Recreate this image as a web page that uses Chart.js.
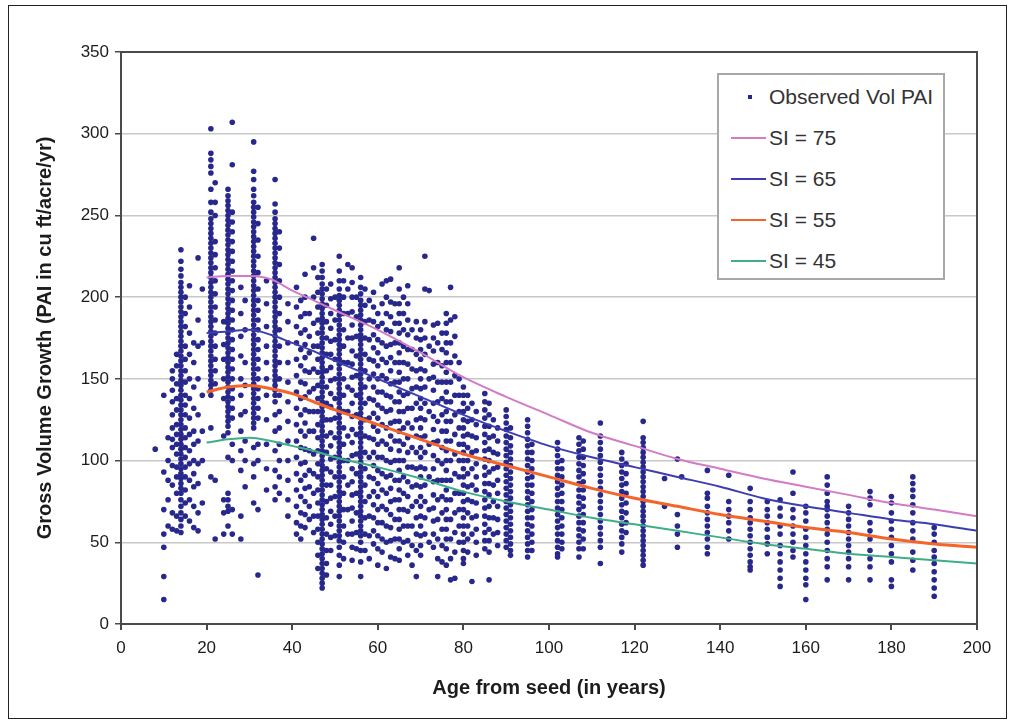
<!DOCTYPE html>
<html>
<head>
<meta charset="utf-8">
<script src="https://cdn.jsdelivr.net/npm/chart.js@4.4.1/dist/chart.umd.min.js"></script>
<style>
  html, body { margin: 0; padding: 0; background: #fff; }
  #wrap { position: relative; width: 1014px; height: 724px; }
  #frame { position: absolute; left: 8px; top: 5px; width: 997px; height: 712px; border: 1px solid #222; pointer-events: none; }
  #legend { position: absolute; left: 717px; top: 73px; width: 224px; height: 203px; border: 2px solid #a8a8a8; background: #fff;
            font-family: "Liberation Sans", Arial, sans-serif; font-size: 21px; color: #333; }
  .row { position: absolute; left: 0; height: 24px; line-height: 24px; }
  .row span.txt { position: absolute; left: 50px; white-space: nowrap; }
  .row span.ln { position: absolute; left: 12px; top: 11px; width: 35px; height: 2px; }
  .row span.dot { position: absolute; left: 29px; top: 10px; width: 4px; height: 4px; background: #27278a; }
</style>
</head>
<body>
<div id="wrap">
  <canvas id="chart" width="1014" height="724"></canvas>
  <div id="legend"></div>
  <div id="frame"></div>
</div>
<script>
// ---- data ----
const curveAges = [20, 25, 30, 35, 40, 45, 50, 60, 70, 80, 90, 100, 110, 120, 130, 140, 150, 160, 170, 180, 190, 200];
const si75 = [212, 213, 213, 211, 204, 198, 192, 180, 166, 151, 139, 128, 117, 109, 101, 95, 89, 84, 79, 74, 70, 66];
const si65 = [178, 179, 180, 177, 172, 167, 161, 150, 139, 128, 118, 109, 102, 96, 90, 84, 77, 72, 68, 64, 61, 57];
const si55 = [142, 145, 146, 144, 141, 136, 131, 122, 113, 104, 97, 90, 83, 77, 72, 67, 63, 59, 56, 52, 49, 47];
const si45 = [111, 113, 114, 112, 109, 106, 102, 96, 89, 81, 75, 70, 65, 61, 57, 53, 49, 46, 43, 41, 39, 37];

// observed PAI, one column per stand age
const obsAges = [8, 10, 11, 12, 13, 14, 15, 16, 17, 18, 19, 21, 22, 24, 25, 26, 28, 29, 31, 32, 34, 36, 37, 39,
  41, 42, 43, 44, 45, 46, 47, 48, 49, 50, 51, 52, 53, 54, 55, 56, 57, 58, 59, 60, 61, 62, 63, 64, 65, 66, 67, 68, 69,
  70, 71, 72, 73, 74, 75, 76, 77, 78, 79, 80, 81, 82, 83, 85, 86, 87, 88, 90, 91, 95, 96, 102, 103, 107, 108, 112,
  117, 118, 122, 127, 130, 131, 137, 142, 147, 151, 154, 157, 160, 165, 170, 175, 180, 185, 190];
const obsValues = [
  [107], // 8
  [140, 93, 70, 55, 47, 29, 15], // 10
  [114, 100, 88, 76, 60], // 11
  [155, 150, 143, 136, 128, 120, 113, 108, 97, 85, 68, 58], // 12
  [165, 158, 147, 138, 131, 122, 116, 110, 104, 96, 90, 80, 66, 57], // 13
  [229, 222, 217, 213, 209, 206, 203, 200, 197, 194, 191, 188, 185, 182, 179, 176, 173, 170, 167, 164, 161, 158, 155,
   152, 149, 146, 143, 140, 137, 134, 131, 128, 125, 122, 119, 116, 113, 110, 107, 104, 101, 98, 95, 92, 89, 86, 83,
   80, 76, 72, 68, 64, 60, 56], // 14
  [200, 190, 182, 170, 162, 155, 148, 140, 134, 128, 120, 114, 108, 102, 96, 90, 82, 74, 66], // 15
  [207, 194, 178, 165, 150, 138, 126, 116, 106, 98, 88, 76, 63], // 16
  [172, 160, 145, 132, 118, 110, 100, 92, 84, 72, 59], // 17
  [224, 186, 170, 150, 128, 112, 98, 86, 68, 57], // 18
  [205, 172, 140, 118, 100, 74], // 19
  [303, 288, 284, 280, 276, 266, 258, 252, 248, 245, 242, 239, 236, 233, 230, 227, 224, 221, 218, 215, 212, 209, 206,
   203, 200, 197, 194, 191, 188, 185, 182, 179, 176, 173, 170, 167, 164, 161, 158, 155, 152, 149, 146, 143, 140, 120, 90], // 21
  [270, 258, 250, 234, 226, 218, 210, 202, 194, 186, 178, 170, 162, 155, 147, 88, 52], // 22
  [185, 171, 162, 150, 138, 115, 76, 68, 55], // 24
  [266, 262, 259, 256, 253, 250, 247, 244, 241, 238, 235, 232, 229, 226, 223, 220, 217, 214, 211, 208, 205, 202, 199,
   196, 193, 190, 187, 184, 181, 178, 175, 172, 169, 166, 163, 160, 157, 154, 151, 148, 145, 142, 139, 136, 133, 130,
   127, 124, 121, 117, 102, 80, 76, 72, 69, 60], // 25
  [307, 281, 252, 246, 240, 234, 228, 222, 216, 210, 204, 198, 192, 186, 180, 174, 168, 162, 156, 150, 144, 138, 132,
   126, 110, 100, 70, 55], // 26
  [206, 190, 176, 164, 150, 140, 128, 118, 106, 94, 66, 52], // 28
  [198, 180, 160, 146, 130, 112, 100, 84], // 29
  [295, 277, 272, 266, 262, 258, 255, 252, 249, 246, 243, 240, 237, 234, 231, 228, 225, 222, 219, 216, 213, 210, 207,
   204, 201, 198, 195, 192, 189, 186, 183, 180, 177, 174, 171, 168, 165, 162, 159, 156, 153, 150, 147, 144, 141, 138,
   135, 132, 129, 126, 123, 120, 108, 98, 90, 74], // 31
  [255, 245, 235, 225, 215, 205, 198, 192, 186, 180, 174, 168, 162, 156, 150, 144, 138, 132, 126, 110, 100, 70, 30], // 32
  [210, 196, 182, 170, 160, 150, 140, 125, 110, 95, 82], // 34
  [272, 257, 252, 248, 245, 242, 239, 236, 233, 230, 227, 224, 221, 218, 215, 212, 209, 206, 203, 200, 197, 194, 191,
   188, 185, 182, 179, 176, 173, 170, 167, 164, 161, 158, 155, 152, 149, 146, 143, 140, 136, 128, 118, 106, 94, 84, 76], // 36
  [240, 230, 220, 210, 200, 190, 180, 170, 160, 150, 140, 130, 120, 110, 100, 90, 80], // 37
  [196, 185, 172, 160, 148, 136, 124, 112, 100, 88, 76, 66], // 39
  [206, 194, 182, 172, 162, 152, 142, 132, 122, 112, 102, 92, 82, 72, 62, 55], // 41
  [198, 188, 178, 168, 158, 148, 138, 128, 118, 108, 98, 88, 78, 68, 60, 52], // 42
  [214, 200, 190, 180, 171, 163, 155, 147, 139, 131, 123, 115, 107, 99, 91, 83, 75, 67, 59], // 43
  [190, 176, 166, 154, 142, 130, 118, 106, 94, 84, 72, 64], // 44
  [236, 218, 200, 184, 170, 156, 144, 130, 118, 104, 92, 80, 66, 56], // 45
  [212, 203, 194, 186, 178, 170, 162, 154, 146, 138, 130, 122, 114, 106, 98, 90, 82, 74, 66, 58, 50, 42, 34], // 46
  [220, 216, 212, 208, 205, 202, 199, 196, 193, 190, 187, 184, 181, 178, 175, 172, 169, 166, 163, 160, 157, 154, 151,
   148, 145, 142, 139, 136, 133, 130, 127, 124, 121, 118, 115, 112, 109, 106, 103, 100, 97, 94, 91, 88, 85, 82, 79,
   76, 73, 70, 67, 64, 61, 58, 55, 52, 49, 46, 43, 40, 37, 34, 31, 28, 25, 22], // 47
  [205, 195, 185, 175, 165, 155, 145, 135, 125, 115, 105, 95, 85, 75, 65, 55, 45, 37, 30], // 48
  [208, 199, 190, 181, 173, 165, 157, 149, 141, 133, 125, 117, 109, 101, 93, 85, 77, 69, 61, 53, 45], // 49
  [200, 186, 174, 162, 150, 138, 126, 114, 102, 90, 78, 66, 54], // 50
  [225, 216, 210, 205, 201, 198, 195, 192, 189, 186, 183, 180, 177, 174, 171, 168, 165, 162, 159, 156, 153, 150, 147,
   144, 141, 138, 135, 132, 129, 126, 123, 120, 117, 114, 111, 108, 105, 102, 99, 96, 93, 90, 87, 84, 81, 78, 75, 72,
   69, 66, 63, 60, 57, 54, 51, 47, 42, 36, 29], // 51
  [210, 200, 190, 180, 170, 160, 150, 140, 130, 120, 110, 100, 90, 80, 70, 60, 50, 40], // 52
  [220, 205, 190, 175, 160, 145, 130, 115, 100, 85, 70, 55], // 53
  [218, 209, 200, 191, 183, 175, 167, 159, 151, 143, 135, 127, 119, 111, 103, 95, 87, 79, 71, 63, 55, 47, 39], // 54
  [200, 188, 176, 164, 152, 140, 128, 116, 104, 92, 80, 68, 56, 46], // 55
  [212, 206, 202, 198, 195, 192, 189, 186, 183, 180, 177, 174, 171, 168, 165, 162, 159, 156, 153, 150, 147, 144, 141,
   138, 135, 132, 129, 126, 123, 120, 117, 114, 111, 108, 105, 102, 99, 96, 93, 90, 87, 84, 81, 78, 75, 72, 69, 66,
   63, 60, 57, 54, 50, 45, 38, 29], // 56
  [205, 195, 185, 175, 165, 155, 145, 135, 125, 115, 105, 95, 85, 75, 65, 55, 45], // 57
  [198, 186, 174, 162, 150, 138, 126, 114, 102, 90, 78, 66, 54, 40], // 58
  [203, 194, 185, 177, 169, 161, 153, 145, 137, 129, 121, 113, 105, 97, 89, 81, 73, 65, 57, 49], // 59
  [190, 182, 174, 166, 158, 150, 142, 134, 126, 118, 110, 102, 94, 86, 78, 70, 62, 54, 46, 36], // 60
  [208, 196, 184, 172, 162, 152, 142, 132, 122, 112, 102, 92, 82, 72, 62, 52, 44], // 61
  [210, 200, 190, 180, 170, 160, 150, 140, 130, 120, 110, 100, 90, 80, 70, 60, 50, 34], // 62
  [211, 197, 188, 179, 171, 163, 155, 147, 139, 131, 123, 115, 107, 99, 91, 83, 75, 67, 59, 51, 41], // 63
  [196, 184, 172, 160, 148, 136, 124, 112, 100, 88, 76, 64, 52, 40], // 64
  [218, 205, 196, 190, 184, 178, 172, 166, 160, 154, 148, 142, 136, 130, 124, 118, 112, 106, 100, 94, 88, 82, 76,
   70, 64, 58, 52, 46, 39], // 65
  [200, 190, 180, 170, 160, 150, 140, 130, 120, 110, 100, 90, 80, 70, 60, 50], // 66
  [207, 196, 186, 177, 168, 159, 150, 141, 132, 123, 114, 105, 96, 87, 78, 69, 60, 51, 42], // 67
  [180, 168, 156, 144, 132, 120, 108, 96, 84, 72, 60, 48, 36], // 68
  [185, 175, 165, 155, 145, 135, 125, 115, 105, 95, 85, 75, 65, 55, 45, 29], // 69
  [180, 174, 168, 162, 156, 150, 144, 138, 132, 126, 120, 114, 108, 102, 96, 90, 84, 78, 72, 66, 60, 54, 48, 42], // 70
  [225, 205, 185, 175, 165, 155, 145, 135, 125, 115, 105, 95, 85, 75, 65, 55], // 71
  [204, 170, 150, 130, 110, 90, 70, 50], // 72
  [183, 175, 167, 159, 151, 143, 135, 127, 119, 111, 103, 95, 87, 79, 71, 63, 55, 47], // 73
  [184, 172, 160, 148, 136, 124, 112, 100, 88, 76, 64, 52, 40, 29], // 74
  [178, 168, 158, 148, 138, 128, 118, 108, 98, 88, 78, 68, 58, 48, 38], // 75
  [190, 184, 178, 172, 166, 160, 154, 148, 142, 136, 130, 124, 118, 112, 106, 100, 94, 88, 82, 76, 70, 64, 58, 52,
   46, 36], // 76
  [206, 186, 172, 160, 148, 136, 124, 112, 100, 88, 76, 64, 52, 40, 27], // 77
  [188, 176, 164, 152, 140, 128, 116, 104, 92, 80, 68, 56, 44, 28], // 78
  [160, 150, 140, 130, 120, 110, 100, 90, 80, 70, 60, 50], // 79
  [145, 140, 135, 130, 125, 120, 115, 110, 105, 100, 95, 90, 85, 80, 75, 70, 65, 60, 55, 50, 45, 40, 37], // 80
  [140, 132, 124, 116, 108, 100, 92, 84, 76, 68, 60, 52, 44], // 81
  [135, 125, 115, 105, 95, 85, 75, 65, 55, 26], // 82
  [130, 122, 114, 106, 98, 90, 82, 74, 66, 58, 50, 42], // 83
  [141, 136, 131, 126, 121, 116, 111, 106, 101, 96, 91, 86, 81, 76, 71, 66, 61, 56, 51, 46], // 85
  [135, 128, 121, 114, 107, 100, 93, 86, 79, 72, 65, 58, 51, 44, 27], // 86
  [125, 115, 105, 95, 85, 75, 65, 55], // 87
  [120, 112, 104, 96, 88, 80, 72, 64, 56, 48], // 88
  [131, 127, 123, 119, 115, 111, 107, 103, 99, 95, 91, 87, 83, 79, 75, 71, 67, 63, 59, 55, 51, 47], // 90
  [120, 114, 109, 105, 101, 97, 93, 89, 85, 81, 77, 73, 69, 65, 61, 57, 53, 49, 45, 42], // 91
  [125, 121, 117, 113, 109, 105, 101, 97, 93, 89, 85, 81, 77, 73, 69, 65, 61, 57, 53, 49, 45, 41], // 95
  [110, 105, 100, 95, 90, 85, 80, 75, 70, 65, 60, 55, 50, 45], // 96
  [111, 107, 103, 99, 95, 91, 87, 83, 79, 75, 71, 67, 63, 59, 55, 51, 47, 43, 41], // 102
  [100, 95, 90, 85, 80, 75, 70, 65, 60, 55, 50, 46], // 103
  [114, 110, 106, 102, 98, 94, 90, 86, 82, 78, 74, 70, 66, 62, 58, 54, 50, 46, 41], // 107
  [112, 107, 102, 97, 92, 87, 82, 77, 72, 67, 62, 57, 52, 46], // 108
  [123, 115, 111, 107, 103, 99, 95, 91, 87, 83, 79, 75, 71, 67, 63, 59, 55, 51, 47, 37], // 112
  [105, 101, 97, 93, 89, 85, 81, 77, 73, 69, 65, 61, 57, 53, 49, 44], // 117
  [98, 92, 86, 80, 74, 68, 62, 56], // 118
  [124, 114, 111, 108, 105, 102, 99, 96, 93, 90, 87, 84, 81, 78, 75, 72, 69, 66, 63, 60, 57, 54, 51, 48, 45, 42, 39, 36], // 122
  [89, 72], // 127
  [101, 67, 60, 55, 47], // 130
  [90], // 131
  [94, 80, 77, 72, 68, 64, 60, 56, 52, 47, 43], // 137
  [91, 75, 70, 66, 62, 57, 52], // 142
  [83, 75, 70, 65, 62, 58, 54, 50, 46, 42, 38, 35, 33], // 147
  [75, 70, 66, 62, 58, 53, 49, 43], // 151
  [76, 71, 66, 60, 55, 48, 43, 38, 33, 28, 23], // 154
  [93, 80, 70, 65, 60, 55, 50, 45, 41], // 157
  [72, 68, 63, 58, 53, 48, 43, 38, 33, 28, 24, 15], // 160
  [90, 85, 80, 75, 72, 70, 66, 62, 58, 55, 50, 45, 40, 35, 27], // 165
  [72, 68, 64, 60, 56, 52, 48, 44, 40, 35, 27], // 170
  [81, 77, 73, 62, 57, 52, 45, 40, 35, 27], // 175
  [78, 74, 68, 63, 58, 53, 48, 43, 38, 27, 23], // 180
  [90, 86, 82, 78, 73, 68, 62, 57, 52, 44, 39, 33], // 185
  [59, 55, 50, 45, 41, 37, 32, 27, 22, 17] // 190
];

const FONT = '"Liberation Sans", Arial, sans-serif';
const INK = '#1c1c1c';

const obsPoints = [];
obsAges.forEach((age, i) => {
  obsValues[i].forEach(v => obsPoints.push({ x: age, y: v }));
});

function curve(vals) {
  return curveAges.map((a, i) => ({ x: a, y: vals[i] }));
}

const curves = [
  { label: 'SI = 75', data: si75, color: '#d27cc6', width: 2 },
  { label: 'SI = 65', data: si65, color: '#3d3db2', width: 2 },
  { label: 'SI = 55', data: si55, color: '#f5652a', width: 3 },
  { label: 'SI = 45', data: si45, color: '#3fae86', width: 2 }
];

// box around the plot area
const plotFrame = {
  id: 'plotFrame',
  afterDraw(chart) {
    const { ctx, chartArea: a } = chart;
    ctx.save();
    ctx.strokeStyle = '#4a4a4a';
    ctx.lineWidth = 2;
    ctx.strokeRect(a.left, a.top, a.right - a.left, a.bottom - a.top);
    ctx.restore();
  }
};

new Chart(document.getElementById('chart'), {
  type: 'scatter',
  data: {
    datasets: [
      ...curves.map(c => ({
        label: c.label,
        data: curve(c.data),
        showLine: true,
        borderColor: c.color,
        borderWidth: c.width,
        pointRadius: 0,
        cubicInterpolationMode: 'monotone',
        order: 0
      })),
      {
        label: 'Observed Vol PAI',
        data: obsPoints,
        backgroundColor: '#28288c',
        borderWidth: 0,
        pointRadius: 2.8,
        order: 1
      }
    ]
  },
  options: {
    responsive: false,
    animation: false,
    layout: { padding: { left: 0, top: 52, right: 37, bottom: 0 } },
    plugins: {
      legend: { display: false },
      tooltip: { enabled: false }
    },
    scales: {
      x: {
        type: 'linear',
        min: 0, max: 200,
        afterFit: s => { s.height = 100; },
        ticks: { stepSize: 20, color: INK, font: { family: FONT, size: 17 }, padding: 8 },
        grid: { drawOnChartArea: false, tickLength: 6, tickColor: '#4a4a4a', lineWidth: 2 },
        border: { display: false },
        title: {
          display: true, text: 'Age from seed (in years)', color: INK,
          font: { family: FONT, size: 20, weight: 'bold' }, padding: { top: 0, bottom: 24 }
        }
      },
      y: {
        min: 0, max: 350,
        afterFit: s => { s.width = 121; },
        ticks: { stepSize: 50, color: INK, font: { family: FONT, size: 17 }, padding: 6 },
        grid: { color: '#c8c8c8', lineWidth: 1.5, tickLength: 6, tickColor: '#4a4a4a' },
        border: { display: false },
        title: {
          display: true, text: 'Gross Volume Growth (PAI in cu ft/acre/yr)', color: INK,
          font: { family: FONT, size: 20, weight: 'bold' }, padding: { top: 33, bottom: 0 }
        }
      }
    }
  },
  plugins: [plotFrame]
});

// legend box
const legend = document.getElementById('legend');
const rows = [{ label: 'Observed Vol PAI', dot: true }].concat(curves.map(c => ({ label: c.label, color: c.color })));
rows.forEach((r, i) => {
  const row = document.createElement('div');
  row.className = 'row';
  row.style.top = (10 + i * 41) + 'px';
  row.style.width = '100%';
  const mark = document.createElement('span');
  if (r.dot) {
    mark.className = 'dot';
  } else {
    mark.className = 'ln';
    mark.style.background = r.color;
  }
  const txt = document.createElement('span');
  txt.className = 'txt';
  txt.textContent = r.label;
  row.appendChild(mark);
  row.appendChild(txt);
  legend.appendChild(row);
});
</script>
</body>
</html>
